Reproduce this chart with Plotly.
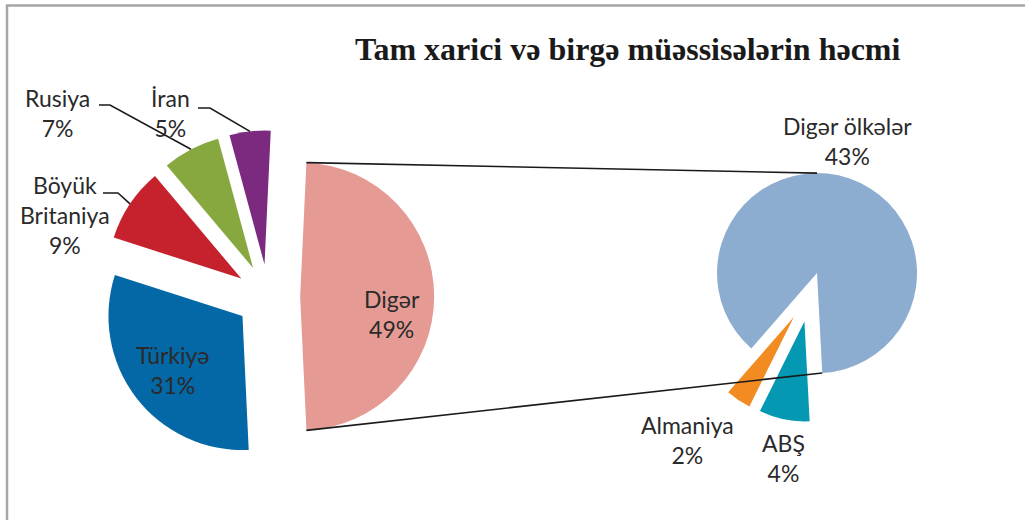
import math
import plotly.graph_objects as go

# ---------------- data ----------------
main_labels = ["Digər", "Türkiyə", "Böyük<br>Britaniya", "Rusiya", "İran"]
main_values = [49, 31, 9, 7, 5]
main_colors = ["#E59A94", "#0568A6", "#C6222E", "#86A83F", "#7B2A7F"]

sub_labels = ["ABŞ", "Almaniya", "Digər ölkələr"]
sub_values = [4, 2, 43]
sub_colors = ["#0498B3", "#F28C22", "#8DADD0"]

title_text = "Tam xarici və birgə müəssisələrin həcmi"

# ---------------- layout geometry (pixels) ----------------
W, H = 1025, 520
MAIN_C = (268.0, 296.5)
MAIN_R = 134.0
MAIN_PULL = 0.24
SUB_C = (810.5, 292.0)
SUB_R = 100.0
SUB_PULLS = [0.3, 0.3, 0.2]
SUB_ROT = 177.0

FONT = "Lato"
TXT = "#2a2a2a"


def px(x, y):
    return x / W, 1 - y / H


def domain(c, r, maxpull):
    half = r * (1 + maxpull)
    x0, y0 = px(c[0] - half, c[1] + half)
    x1, y1 = px(c[0] + half, c[1] - half)
    return dict(x=[x0, x1], y=[y0, y1])


def slice_angles(values, rot):
    tot = sum(values)
    out, a = [], rot
    for v in values:
        span = 360.0 * v / tot
        out.append((a, a + span))
        a += span
    return out


def pt(c, ang, dist):
    t = math.radians(ang)
    return (c[0] + dist * math.sin(t), c[1] - dist * math.cos(t))


main_rot = 90 - 0.5 * 360.0 * main_values[0] / sum(main_values)
main_ang = slice_angles(main_values, main_rot)
sub_ang = slice_angles(sub_values, SUB_ROT)

fig = go.Figure()
fig.add_trace(go.Pie(
    values=main_values, labels=main_labels, sort=False, direction="clockwise",
    rotation=main_rot, pull=[MAIN_PULL] * len(main_values),
    marker=dict(colors=main_colors, line=dict(width=0)),
    textinfo="none", hoverinfo="label+value", showlegend=False,
    domain=domain(MAIN_C, MAIN_R, MAIN_PULL),
))
fig.add_trace(go.Pie(
    values=sub_values, labels=sub_labels, sort=False, direction="clockwise",
    rotation=SUB_ROT, pull=SUB_PULLS,
    marker=dict(colors=sub_colors, line=dict(width=0)),
    textinfo="none", hoverinfo="label+value", showlegend=False,
    domain=domain(SUB_C, SUB_R, max(SUB_PULLS)),
))

shapes = []
# frame
for (x0, y0, x1, y1) in [(7, 5, 7, 520), (6, 5.5, 1025, 5.5)]:
    a = px(x0, y0); b = px(x1, y1)
    shapes.append(dict(type="line", xref="paper", yref="paper", x0=a[0], y0=a[1], x1=b[0], y1=b[1],
                       line=dict(color="#A6A6A6", width=2.5)))

# connector lines between "Digər" slice and secondary pie
def apex(c, r, pull, a0, a1):
    return pt(c, (a0 + a1) / 2, r * pull)

dg_apex = apex(MAIN_C, MAIN_R, MAIN_PULL, *main_ang[0])
dg_top = pt(dg_apex, main_ang[0][0], MAIN_R)
dg_bot = pt(dg_apex, main_ang[0][1], MAIN_R)
bl_apex = apex(SUB_C, SUB_R, SUB_PULLS[2], *sub_ang[2])
bl_top = pt(bl_apex, 0, SUB_R)
bl_bot = pt(bl_apex, SUB_ROT, SUB_R)
for p0, p1 in [(dg_top, bl_top), (dg_bot, bl_bot)]:
    a = px(*p0); b = px(*p1)
    shapes.append(dict(type="line", xref="paper", yref="paper", x0=a[0], y0=a[1], x1=b[0], y1=b[1],
                       line=dict(color="#1a1a1a", width=1.6)))

# leader lines for outside labels: (slice index, label-line start px)
leaders = [(2, (103, 193), (118, 193)), (3, (99, 105), (110, 105)), (4, (198, 108), (210, 108))]
for idx, s0, s1 in leaders:
    a0, a1 = main_ang[idx]
    ap = apex(MAIN_C, MAIN_R, MAIN_PULL, a0, a1)
    end = pt(ap, (a0 + a1) / 2, MAIN_R)
    pts = [px(*s0), px(*s1), px(*end)]
    path = "M {} {} L {} {} L {} {}".format(pts[0][0], pts[0][1], pts[1][0], pts[1][1], pts[2][0], pts[2][1])
    shapes.append(dict(type="path", xref="paper", yref="paper", path=path,
                       line=dict(color="#1a1a1a", width=1.6)))

# labels (text block centres in px)
label_pos = {
    ("main", 0): (392, 314),
    ("main", 1): (172, 370),
    ("main", 2): (65, 215),
    ("main", 3): (57, 113),
    ("main", 4): (170, 113),
    ("sub", 0): (783, 458),
    ("sub", 1): (687, 440),
    ("sub", 2): (847, 141),
}
annotations = []
for (which, i), (x, y) in label_pos.items():
    if which == "main":
        txt = "{}<br>{}%".format(main_labels[i], main_values[i])
    else:
        txt = "{}<br>{}%".format(sub_labels[i], sub_values[i])
    ax, ay = px(x, y)
    annotations.append(dict(text=txt, x=ax, y=ay, xref="paper", yref="paper", showarrow=False,
                            xanchor="center", yanchor="middle", align="center",
                            font=dict(family=FONT, size=23, color=TXT)))

tx, ty = px(628, 49)
annotations.append(dict(text="<b>" + title_text + "</b>", x=tx, y=ty, xref="paper", yref="paper",
                        showarrow=False, xanchor="center", yanchor="middle",
                        font=dict(family="Liberation Serif", size=32, color="#1a1a1a")))

fig.update_layout(
    width=W, height=H, margin=dict(l=0, r=0, t=0, b=0),
    paper_bgcolor="white", plot_bgcolor="white",
    shapes=shapes, annotations=annotations,
)
fig.write_html("out.html")
